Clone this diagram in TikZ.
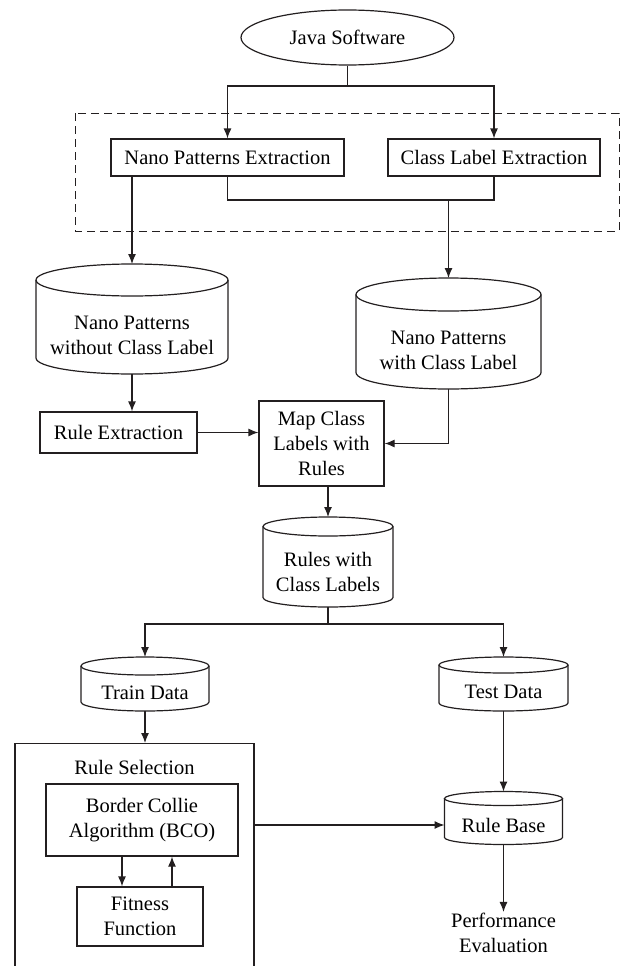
\documentclass[tikz,border=0pt]{standalone}
\usepackage{fontspec}
\setmainfont{Liberation Serif}
\usetikzlibrary{arrows.meta}
\usetikzlibrary{shapes.geometric}
\definecolor{inkgray}{RGB}{35,31,32}
\tikzset{box/.style = {shape = rectangle, draw = inkgray, line width = 1.2pt, inner sep = 2pt, align = center}}
\tikzset{db/.style = {shape = rectangle, inner sep = 2pt, outer sep = 0pt, align = center}}
\tikzset{edge/.style = {-{Latex[length = 10pt, width = 8pt]}, draw = inkgray, line width = 1.2pt}}
\tikzset{link/.style = {draw = inkgray, line width = 1.2pt}}
\newcommand{\drawdb}[3]{%
	\draw[link] ([yshift = #3]#1.north west) -- ([yshift = #3]#1.south west) arc[start angle = 180, end angle = 360, x radius = #2, y radius = #3] -- ([yshift = #3]#1.north east);
	\draw[link] ([yshift = #3]#1.north) ellipse[x radius = #2, y radius = #3];
	\coordinate (#1 top) at ([yshift = 2*#3]#1.north);}

\begin{document}
\begin{tikzpicture}[x = 1pt, y = -1pt, font = \fontsize{20.5}{25}\selectfont]
			\useasboundingbox (0, 0) rectangle (620, 966);
			\draw[inkgray, line width = 1pt, dash pattern = on 8pt off 5pt] (75, 113) rectangle (619, 231);

			\node[ellipse, draw = inkgray, line width = 1.2pt, minimum width = 213pt, minimum height = 55pt] (java) at (347.5, 37.5) {Java Software};
			\node[box, minimum width = 233pt, minimum height = 37pt] (npe) at (227.5, 157.5) {Nano Patterns Extraction};
			\node[box, minimum width = 212pt, minimum height = 37pt] (cle) at (494, 157.5) {Class Label Extraction};
			\node[db, minimum width = 192pt, minimum height = 78pt] (npwo) at (132, 335) {Nano Patterns\\without Class Label};
			\drawdb{npwo}{96pt}{16pt}
			\node[db, minimum width = 185pt, minimum height = 78pt] (npw) at (448.5, 350) {Nano Patterns\\with Class Label};
			\drawdb{npw}{92.5pt}{16.5pt}
			\node[box, minimum width = 157pt, minimum height = 41pt] (ruleext) at (118.5, 432.5) {Rule Extraction};
			\node[box, minimum width = 125pt, minimum height = 85pt] (map) at (321.5, 443.5) {Map Class\\Labels with\\Rules};
			\node[db, minimum width = 130pt, minimum height = 71pt] (rwcl) at (328, 571.5) {Rules with\\Class Labels};
			\drawdb{rwcl}{65pt}{9.5pt}
			\node[db, minimum width = 128pt, minimum height = 36pt] (train) at (145, 693) {Train Data};
			\drawdb{train}{64pt}{9pt}
			\node[db, minimum width = 129pt, minimum height = 38pt] (test) at (503.5, 692) {Test Data};
			\drawdb{test}{64.5pt}{8pt}
			\node[box, minimum width = 239pt, minimum height = 240pt, anchor = north] (rulesel) at (134.5, 743) {};
			\node (seltitle) at (134.5, 767) {Rule Selection};
			\node[box, minimum width = 192pt, minimum height = 72pt] (bco) at (142, 820) {Border Collie\\Algorithm (BCO)};
			\node[box, minimum width = 126pt, minimum height = 59pt] (fit) at (140, 916.5) {Fitness\\Function};
			\node[db, minimum width = 118pt, minimum height = 39pt] (rulebase) at (503.5, 825) {Rule Base};
			\drawdb{rulebase}{59pt}{7pt}
			\node[inner sep = 1pt, align = center] (perf) at (503.5, 933) {Performance\\Evaluation};

			\coordinate (split1) at (347.5, 86);
			\coordinate (join1) at (448.5, 200);
			\coordinate (split2) at (328, 624);
			\coordinate (dn) at (122, 0);
			\coordinate (up) at (172, 0);

			\draw[link] (java) -- (split1);
			\draw[edge] (split1) -| (npe);
			\draw[edge] (split1) -| (cle);
			\draw[link] (npe) |- (join1);
			\draw[link] (cle) |- (join1);
			\draw[edge] (join1) -- (npw top);
			\draw[edge] (npe.south -| npwo) -- (npwo top);
			\draw[edge] (npwo) -- (npwo |- ruleext.north);
			\draw[edge] (ruleext) -- (ruleext -| map.west);
			\draw[edge] (npw) |- (map);
			\draw[edge] (map.south -| rwcl) -- (rwcl top);
			\draw[link] (rwcl) -- (split2);
			\draw[edge] (split2) -| (train top);
			\draw[edge] (split2) -| (test top);
			\draw[edge] (train) -- (train |- rulesel.north);
			\draw[edge] (bco.south -| dn) -- (fit.north -| dn);
			\draw[edge] (fit.north -| up) -- (bco.south -| up);
			\draw[edge] (rulesel.east |- rulebase) -- (rulebase);
			\draw[edge] (test) -- (rulebase top);
			\draw[edge] (rulebase) -- (perf);
		\end{tikzpicture}
\end{document}
